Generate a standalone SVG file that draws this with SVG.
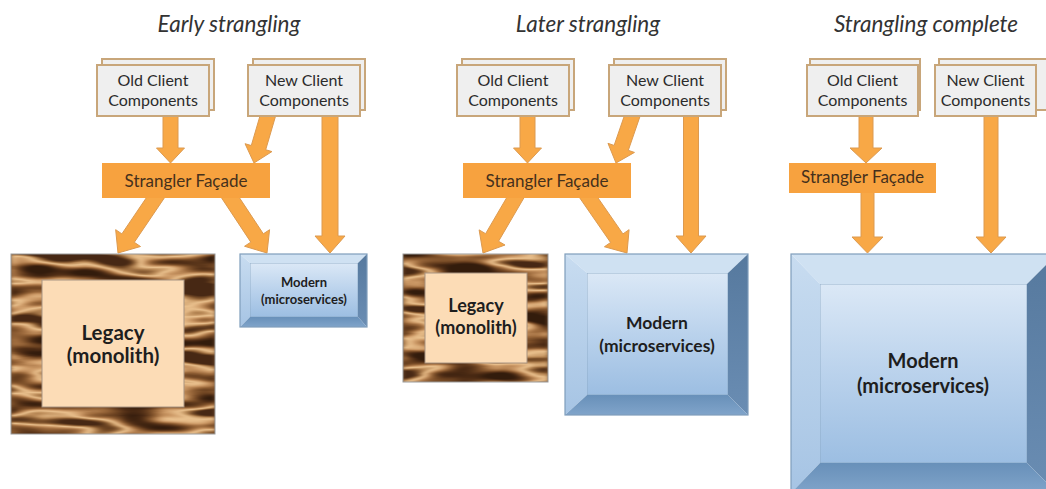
<svg xmlns="http://www.w3.org/2000/svg" width="1046" height="489" viewBox="0 0 1046 489">
<defs>
  <style>
    .title{font-family:Lato,"Liberation Sans",sans-serif;font-style:italic;font-size:22.5px;fill:#333;text-anchor:middle}
    .cl{font-family:Lato,"Liberation Sans",sans-serif;font-size:16px;fill:#2b2b2b;text-anchor:middle}
    .fc{font-family:Lato,"Liberation Sans",sans-serif;font-size:17px;fill:#45301c;text-anchor:middle}
    .bt{font-family:Lato,"Liberation Sans",sans-serif;font-weight:bold;fill:#1e1e1e;text-anchor:middle}
    .doc{fill:#efefef;stroke:#c8a67a;stroke-width:2}
    .fac{fill:#f7a23f}
    .arr{fill:#f8a846;stroke:#dc9a50;stroke-width:1;stroke-linejoin:miter}
    .face{fill:url(#gFace);stroke:#8aa7c2;stroke-width:0.8}
    .btop{fill:#cfe1f2}
    .bleft{fill:url(#gLeft)}
    .bright{fill:url(#gRight)}
    .bbot{fill:url(#gBot)}
    .outer{fill:none;stroke:#7f9dbb;stroke-width:1.2}
    .inner{fill:#fcdcb6;stroke:#a89482;stroke-width:1}
    .woodbox{fill:#7a5535}
  </style>
  <linearGradient id="gFace" x1="0" y1="0" x2="0" y2="1">
    <stop offset="0" stop-color="#dbe8f6"/>
    <stop offset="0.5" stop-color="#bad2ec"/>
    <stop offset="1" stop-color="#9cbee2"/>
  </linearGradient>
  <linearGradient id="gLeft" x1="0" y1="0" x2="0" y2="1">
    <stop offset="0" stop-color="#c8dcf0"/>
    <stop offset="1" stop-color="#a6c4e4"/>
  </linearGradient>
  <linearGradient id="gRight" x1="0" y1="0" x2="0" y2="1">
    <stop offset="0" stop-color="#56799e"/>
    <stop offset="1" stop-color="#6a8db3"/>
  </linearGradient>
  <linearGradient id="gBot" x1="0" y1="0" x2="0" y2="1">
    <stop offset="0" stop-color="#6890b9"/>
    <stop offset="1" stop-color="#80a4ca"/>
  </linearGradient>
  <filter id="wood" x="0" y="0" width="1" height="1" color-interpolation-filters="sRGB">
    <feTurbulence type="fractalNoise" baseFrequency="0.012 0.06" numOctaves="2" seed="11" result="n"/>
    <feColorMatrix in="n" type="matrix" values="2.6 0 0 0 -0.8  2.6 0 0 0 -0.8  2.6 0 0 0 -0.8  0 0 0 0 1" result="g"/>
    <feComponentTransfer in="g" result="c">
      <feFuncR type="table" tableValues="0.20 0.30 0.45 0.62 0.80 0.92 0.74 0.48 0.28"/>
      <feFuncG type="table" tableValues="0.11 0.17 0.28 0.42 0.60 0.76 0.55 0.31 0.16"/>
      <feFuncB type="table" tableValues="0.05 0.08 0.14 0.24 0.40 0.56 0.35 0.16 0.08"/>
    </feComponentTransfer>
    <feGaussianBlur in="c" stdDeviation="2 0.7"/>
  </filter>
</defs>
<rect width="1046" height="489" fill="#ffffff"/>

<g id="titles">
  <text class="title" x="229" y="32">Early strangling</text>
  <text class="title" x="588" y="32">Later strangling</text>
  <text class="title" x="926" y="32" font-size="23.5">Strangling complete</text>
</g>

<g id="connectors">
  <!-- panel 1 -->
  <polygon class="arr" points="163,110 163,148 156.5,148 170.5,163 184.5,148 178,148 178,110"/>
  <polygon class="arr" points="263.80,102.89 251.30,145.54 245.06,143.71 254,163 271.94,151.58 265.70,149.76 278.20,107.11"/>
  <polygon class="arr" points="155.79,183.80 121.88,233.89 115.67,229.68 118,253 140.51,246.50 134.30,242.30 168.21,192.21"/>
  <polygon class="arr" points="217.75,192.14 250.82,242.13 244.56,246.27 267,253 269.58,229.71 263.33,233.85 230.26,183.86"/>
  <polygon class="arr" points="322,110 322,236 315,236 330,253 345,236 338,236 338,110"/>
  <!-- panel 2 -->
  <polygon class="arr" points="520,110 520,148 513.5,148 527.5,163 541.5,148 535,148 535,110"/>
  <polygon class="arr" points="628.91,102.56 614.13,145.43 607.98,143.31 616,163 634.46,152.43 628.31,150.32 643.09,107.45"/>
  <polygon class="arr" points="514.53,184.22 485.61,233.68 479.13,229.89 483,253 505.03,245.03 498.55,241.25 527.48,191.79"/>
  <polygon class="arr" points="575.83,192.27 610.59,242.47 604.43,246.74 627,253 629.09,229.66 622.93,233.93 588.17,183.73"/>
  <polygon class="arr" points="683.5,110 683.5,236 676,236 691,253 706,236 698.5,236 698.5,110"/>
  <!-- panel 3 -->
  <polygon class="arr" points="859,110 859,148 850,148 866,163 882,148 873,148 873,110"/>
  <polygon class="arr" points="861,185 861,237 852,237 867.5,253 883,237 874,237 874,185"/>
  <polygon class="arr" points="984,110 984,237 976,237 991,253 1006,237 998,237 998,110"/>
</g>

<!-- Panel 1 -->
<g id="p1-old-client">
  <rect class="doc" x="102" y="59" width="112" height="51"/>
  <rect class="doc" x="97" y="65" width="112" height="51"/>
  <text class="cl" x="153" y="86">Old Client</text>
  <text class="cl" x="153" y="106">Components</text>
</g>
<g id="p1-new-client">
  <rect class="doc" x="253" y="59" width="112" height="51"/>
  <rect class="doc" x="248" y="65" width="112" height="51"/>
  <text class="cl" x="304" y="86">New Client</text>
  <text class="cl" x="304" y="106">Components</text>
</g>
<g id="p1-facade">
  <rect class="fac" x="102" y="163" width="168" height="35"/>
  <text class="fc" x="186" y="187">Strangler Façade</text>
</g>
<g id="p1-legacy">
  <rect class="woodbox" x="11" y="254" width="204" height="180"/>
  <rect x="11" y="254" width="204" height="180" filter="url(#wood)" fill="#000"/>
  <rect x="11" y="254" width="204" height="180" fill="none" stroke="#9a9a9a" stroke-width="1"/>
  <rect class="inner" x="42" y="280" width="142" height="127"/>
  <text class="bt" x="113" y="340" font-size="20.5">Legacy</text>
  <text class="bt" x="113" y="363" font-size="20.5">(monolith)</text>
</g>
<g id="p1-modern">
  <rect class="face" x="250" y="263" width="108" height="54"/>
  <polygon class="btop" points="240,254 367,254 358,263 250,263"/>
  <polygon class="bleft" points="240,254 250,263 250,317 240,327"/>
  <polygon class="bright" points="367,254 367,327 358,317 358,263"/>
  <polygon class="bbot" points="240,327 250,317 358,317 367,327"/>
  <rect class="outer" x="240" y="254" width="127" height="73"/>
  <text class="bt" x="304" y="287" font-size="13">Modern</text>
  <text class="bt" x="304" y="304" font-size="13">(microservices)</text>
</g>

<!-- Panel 2 -->
<g id="p2-old-client">
  <rect class="doc" x="462" y="59" width="112" height="51"/>
  <rect class="doc" x="457" y="65" width="112" height="51"/>
  <text class="cl" x="513" y="86">Old Client</text>
  <text class="cl" x="513" y="106">Components</text>
</g>
<g id="p2-new-client">
  <rect class="doc" x="614" y="59" width="112" height="51"/>
  <rect class="doc" x="609" y="65" width="112" height="51"/>
  <text class="cl" x="665" y="86">New Client</text>
  <text class="cl" x="665" y="106">Components</text>
</g>
<g id="p2-facade">
  <rect class="fac" x="463" y="163" width="168" height="35"/>
  <text class="fc" x="547" y="187">Strangler Façade</text>
</g>
<g id="p2-legacy">
  <rect class="woodbox" x="403" y="254" width="145" height="128"/>
  <rect x="403" y="254" width="145" height="128" filter="url(#wood)" fill="#000"/>
  <rect x="403" y="254" width="145" height="128" fill="none" stroke="#9a9a9a" stroke-width="1"/>
  <rect class="inner" x="425" y="273" width="102" height="90"/>
  <text class="bt" x="476" y="312" font-size="18">Legacy</text>
  <text class="bt" x="476" y="334" font-size="18">(monolith)</text>
</g>
<g id="p2-modern">
  <rect class="face" x="587" y="273" width="141" height="122"/>
  <polygon class="btop" points="565,254 748,254 728,273 587,273"/>
  <polygon class="bleft" points="565,254 587,273 587,395 565,415"/>
  <polygon class="bright" points="748,254 748,415 728,395 728,273"/>
  <polygon class="bbot" points="565,415 587,395 728,395 748,415"/>
  <rect class="outer" x="565" y="254" width="183" height="161"/>
  <text class="bt" x="657" y="329" font-size="17.5">Modern</text>
  <text class="bt" x="657" y="352" font-size="17.5">(microservices)</text>
</g>

<!-- Panel 3 -->
<g id="p3-old-client">
  <rect class="doc" x="810" y="59" width="110" height="51"/>
  <rect class="doc" x="807" y="65" width="111" height="51"/>
  <text class="cl" x="862.5" y="86">Old Client</text>
  <text class="cl" x="862.5" y="106">Components</text>
</g>
<g id="p3-new-client">
  <rect class="doc" x="939" y="59" width="112" height="51"/>
  <rect class="doc" x="935" y="65" width="101" height="51"/>
  <text class="cl" x="985.5" y="86">New Client</text>
  <text class="cl" x="985.5" y="106">Components</text>
</g>
<g id="p3-facade">
  <rect class="fac" x="789" y="163" width="147" height="30"/>
  <text class="fc" x="862.5" y="183" font-size="15.5">Strangler Façade</text>
</g>
<g id="p3-modern">
  <rect class="face" x="820" y="284" width="207" height="179"/>
  <polygon class="btop" points="791,254 1057,254 1027,284 820,284"/>
  <polygon class="bleft" points="791,254 820,284 820,463 791,493"/>
  <polygon class="bright" points="1057,254 1057,493 1027,463 1027,284"/>
  <polygon class="bbot" points="791,493 820,463 1027,463 1057,493"/>
  <rect class="outer" x="791" y="254" width="266" height="239"/>
  <text class="bt" x="923" y="368" font-size="20">Modern</text>
  <text class="bt" x="923" y="393" font-size="20">(microservices)</text>
</g>
</svg>
